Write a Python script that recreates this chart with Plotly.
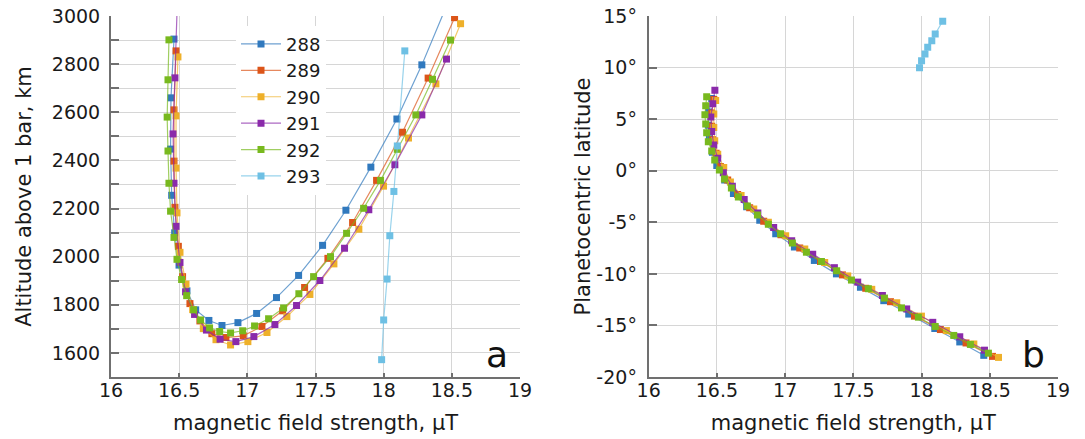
import plotly.graph_objects as go

#== Data ==#
orbits = ['288', '289', '290', '291', '292', '293']

# magnetic field strength (uT), altitude above 1 bar (km), planetocentric latitude (deg)
field_288 = [16.462, 16.44, 16.437, 16.445, 16.467, 16.499, 16.557, 16.621, 16.718, 16.814,
             16.931, 17.068, 17.214, 17.376, 17.552, 17.723, 17.906, 18.097, 18.28, 18.456]
alt_288 = [2904, 2660, 2447, 2255, 2099, 1965, 1858, 1779, 1735, 1714,
           1726, 1764, 1830, 1922, 2047, 2193, 2372, 2572, 2797, 3035]
lat_288 = [7.0, 5.7, 4.4, 3.1, 1.8, 0.5, -0.9, -2.2, -3.5, -4.8,
           -6.1, -7.4, -8.7, -10.0, -11.3, -12.6, -13.9, -15.3, -16.6, -17.9]

field_289 = [16.477, 16.462, 16.462, 16.469, 16.494, 16.525, 16.579, 16.652, 16.74, 16.843,
             16.97, 17.107, 17.259, 17.42, 17.591, 17.772, 17.948, 18.138, 18.326, 18.52]
alt_289 = [2855, 2610, 2397, 2205, 2043, 1917, 1805, 1733, 1680, 1664,
           1671, 1710, 1775, 1872, 1993, 2142, 2317, 2517, 2742, 2993]
lat_289 = [6.9, 5.6, 4.3, 3.0, 1.7, 0.4, -0.9, -2.3, -3.6, -4.9,
           -6.2, -7.5, -8.8, -10.1, -11.4, -12.7, -14.1, -15.4, -16.7, -18.0]

field_290 = [16.491, 16.477, 16.477, 16.484, 16.506, 16.55, 16.599, 16.677, 16.77, 16.877,
             17.004, 17.144, 17.29, 17.459, 17.635, 17.818, 17.999, 18.182, 18.383, 18.564]
alt_290 = [2830, 2585, 2368, 2182, 2018, 1886, 1780, 1701, 1655, 1633,
           1647, 1685, 1751, 1843, 1970, 2114, 2293, 2493, 2718, 2968]
lat_290 = [6.8, 5.5, 4.2, 2.9, 1.6, 0.3, -1.1, -2.4, -3.7, -5.0,
           -6.3, -7.6, -8.9, -10.2, -11.5, -12.8, -14.1, -15.5, -16.8, -18.1]

field_291 = [16.485, 16.469, 16.455, 16.462, 16.477, 16.506, 16.547, 16.613, 16.7, 16.8,
             16.916, 17.048, 17.202, 17.361, 17.532, 17.713, 17.891, 18.082, 18.28, 18.461]
alt_291 = [3030, 2743, 2510, 2305, 2126, 1976, 1854, 1760, 1695, 1657,
           1647, 1668, 1718, 1797, 1901, 2035, 2195, 2382, 2589, 2821]
lat_291 = [7.8, 6.5, 5.2, 3.8, 2.5, 1.2, -0.2, -1.5, -2.8, -4.1,
           -5.5, -6.8, -8.1, -9.4, -10.8, -12.1, -13.4, -14.7, -16.1, -17.4]

field_292 = [16.425, 16.418, 16.412, 16.418, 16.425, 16.437, 16.462, 16.484, 16.518, 16.555,
             16.606, 16.657, 16.723, 16.797, 16.877, 16.966, 17.053, 17.156, 17.266, 17.378,
             17.486, 17.61, 17.728, 17.853, 17.977, 18.10, 18.236, 18.358, 18.49]
alt_292 = [2901, 2735, 2580, 2439, 2305, 2189, 2080, 1989, 1905, 1838,
           1779, 1737, 1704, 1689, 1683, 1692, 1712, 1742, 1787, 1846,
           1917, 2000, 2097, 2201, 2317, 2446, 2589, 2737, 2900]
lat_292 = [7.17, 6.29, 5.42, 4.54, 3.67, 2.8, 1.92, 1.05, 0.08, -0.8,
           -1.67, -2.54, -3.42, -4.3, -5.2, -6.1, -7.0, -7.9, -8.8, -9.7,
           -10.6, -11.44, -12.35, -13.3, -14.2, -15.1, -15.97, -16.84, -17.69]

field_293 = [17.985, 18.0, 18.025, 18.045, 18.075, 18.10, 18.155]
alt_293 = [1572, 1737, 1907, 2087, 2271, 2460, 2855]
lat_293 = [9.98, 10.66, 11.31, 11.96, 12.6, 13.25, 14.5]

# tick labels (altitude grid every 100 km, labelled every 200 km)
field_ticks = [16, 16.5, 17, 17.5, 18, 18.5, 19]
alt_ticks = [1500, 1600, 1700, 1800, 1900, 2000, 2100, 2200,
             2300, 2400, 2500, 2600, 2700, 2800, 2900, 3000]
alt_labels = ['', '1600', '', '1800', '', '2000', '', '2200',
              '', '2400', '', '2600', '', '2800', '', '3000']
lat_ticks = [-20, -15, -10, -5, 0, 5, 10, 15]
lat_labels = ['-20°', '-15°', '-10°', '-5°', '0°', '5°', '10°', '15°']

#== Styling ==#
colors = ['#3079BE', '#DC5519', '#EEB02A', '#8A2AAA', '#78B91E', '#6EC0E4']
line_colors = ['rgba(48,121,190,0.7)', 'rgba(220,85,25,0.7)', 'rgba(238,176,42,0.7)',
               'rgba(138,42,170,0.7)', 'rgba(120,185,30,0.7)', 'rgba(110,192,228,0.7)']
FONT = 'DejaVu Sans'
TXT = '#1a1a1a'
GRID = '#D6D6D6'
AXIS = '#707070'

fields = [field_288, field_289, field_290, field_291, field_292, field_293]
alts = [alt_288, alt_289, alt_290, alt_291, alt_292, alt_293]
lats = [lat_288, lat_289, lat_290, lat_291, lat_292, lat_293]

fig = go.Figure()

# left panel: altitude vs field
for name, f, a, c, lc in zip(orbits, fields, alts, colors, line_colors):
    fig.add_trace(go.Scatter(
        x=f, y=a, name=name, mode='lines+markers',
        line=dict(color=lc, width=1.2),
        marker=dict(symbol='square', size=7, color=c),
        xaxis='x', yaxis='y'
    ))

# right panel: latitude vs field
for name, f, l, c, lc in zip(orbits, fields, lats, colors, line_colors):
    fig.add_trace(go.Scatter(
        x=f, y=l, name=name, mode='lines+markers',
        line=dict(color=lc, width=1.2),
        marker=dict(symbol='square', size=7, color=c),
        xaxis='x2', yaxis='y2', showlegend=False
    ))

xaxis_common = dict(
    range=[16, 19], tickvals=field_ticks, showgrid=True, gridcolor=GRID, gridwidth=1,
    showline=True, linecolor=AXIS, linewidth=2, ticks='inside', ticklen=4,
    tickcolor=AXIS, tickwidth=2, zeroline=False, automargin=False,
    ticklabelstandoff=-5, ticklabeloverflow='allow',
    tickfont=dict(family=FONT, size=19, color=TXT),
    title=dict(text='magnetic field strength, μT', font=dict(family=FONT, size=21, color=TXT),
               standoff=16),
)
yaxis_common = dict(
    domain=[0, 1], showgrid=True, gridcolor=GRID, showline=True, linecolor=AXIS,
    linewidth=2, ticks='inside', ticklen=8, tickcolor=AXIS, tickwidth=2,
    zeroline=False, automargin=False, ticklabeloverflow='allow',
    tickfont=dict(family=FONT, size=19, color=TXT),
)

fig.update_layout(
    width=1085, height=439,
    margin=dict(l=111, r=27, t=16, b=62),
    plot_bgcolor='white', paper_bgcolor='white',
    font=dict(family=FONT, color=TXT),
    xaxis=dict(domain=[0, 0.4319], anchor='y', **xaxis_common),
    xaxis2=dict(domain=[0.5678, 1.0], anchor='y2', **xaxis_common),
    yaxis=dict(
        anchor='x', range=[1500, 3000], tickvals=alt_ticks, ticktext=alt_labels,
        ticklabelstandoff=5,
        title=dict(text='Altitude above 1 bar, km', font=dict(family=FONT, size=21, color=TXT),
                   standoff=14),
        **yaxis_common
    ),
    yaxis2=dict(
        anchor='x2', range=[-20, 15], tickvals=lat_ticks, ticktext=lat_labels,
        ticklabelstandoff=6,
        title=dict(text='Planetocentric latitude', font=dict(family=FONT, size=21, color=TXT),
                   standoff=0),
        **yaxis_common
    ),
    legend=dict(
        x=0.132, y=0.973, xanchor='left', yanchor='top',
        bgcolor='white', borderwidth=0, itemwidth=40, tracegroupgap=0,
        font=dict(family=FONT, size=18, color=TXT),
    ),
    showlegend=True,
)

# panel letters
fig.add_annotation(text='a', xref='x domain', yref='y domain', x=0.944, y=0.0,
                   xanchor='center', yanchor='bottom', showarrow=False,
                   font=dict(family=FONT, size=36, color='#111'))
fig.add_annotation(text='b', xref='x2 domain', yref='y2 domain', x=0.94, y=0.0,
                   xanchor='center', yanchor='bottom', showarrow=False,
                   font=dict(family=FONT, size=36, color='#111'))

# drop the default page margin so the figure fills the window exactly
fig.write_html("out.html", config={'displayModeBar': False},
               post_script="document.body.style.margin = '0';")
